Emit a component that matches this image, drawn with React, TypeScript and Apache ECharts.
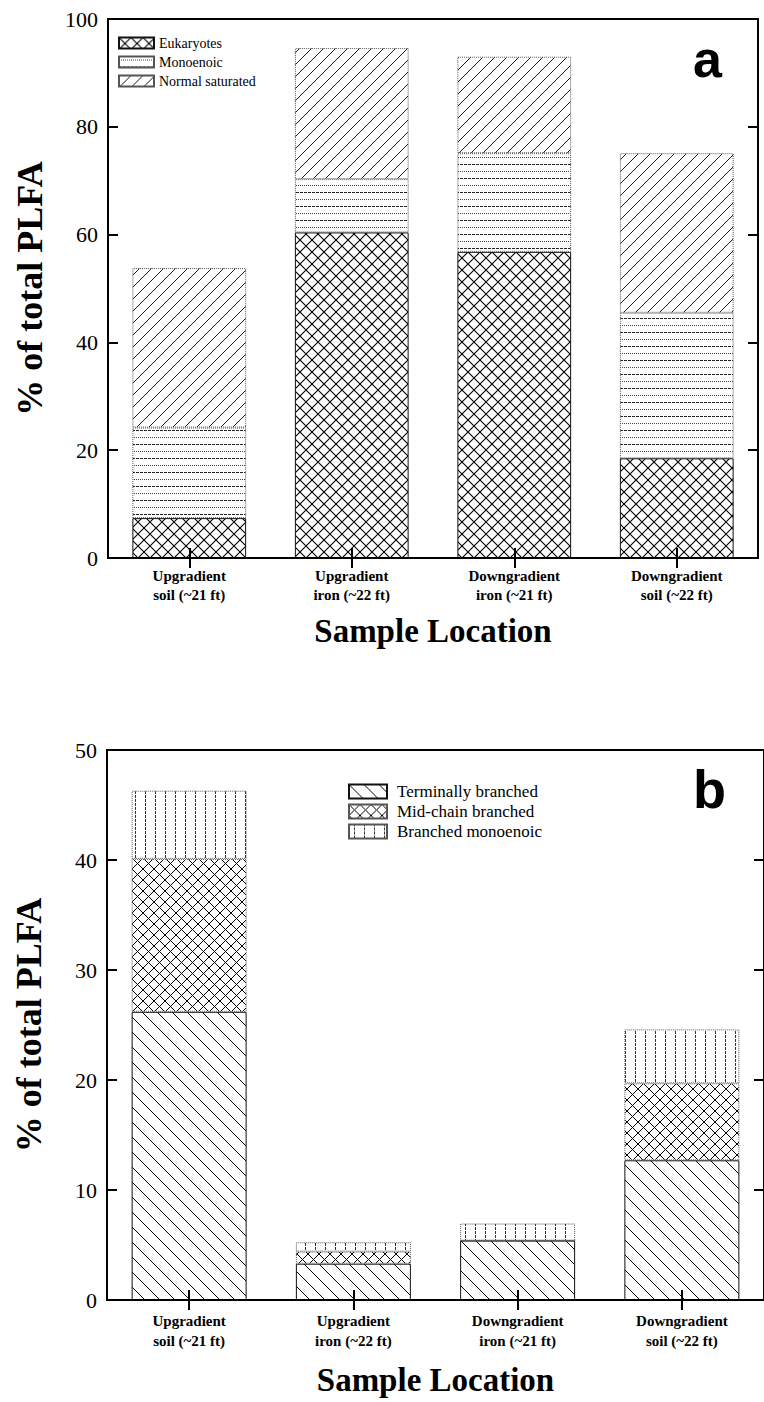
import React, { useEffect, useRef } from "react";
import * as echarts from "echarts";

// ---------- data ----------
const categories = [
  "Upgradient\nsoil (~21 ft)",
  "Upgradient\niron (~22 ft)",
  "Downgradient\niron (~21 ft)",
  "Downgradient\nsoil (~22 ft)",
];

// panel a
const eukaryotes = [7.4, 60.4, 56.8, 18.5];
const monoenoic = [16.8, 9.9, 18.3, 27.0];
const normalSaturated = [29.6, 24.3, 17.9, 29.6];

// panel b
const terminallyBranched = [26.2, 3.3, 5.4, 12.7];
const midChainBranched = [13.9, 1.1, 0, 7.0];
const branchedMonoenoic = [6.2, 0.85, 1.55, 4.9];

const yTicksA = [0, 20, 40, 60, 80, 100];
const yTicksB = [0, 10, 20, 30, 40, 50];

const legendA = ["Eukaryotes", "Monoenoic", "Normal saturated"];
const legendB = ["Terminally branched", "Mid-chain branched", "Branched monoenoic"];

// ---------- hatch patterns ----------
const svgTile = (w: number, h: number, body: string) =>
  "data:image/svg+xml;charset=utf-8," +
  encodeURIComponent(
    `<svg xmlns='http://www.w3.org/2000/svg' width='${w}' height='${h}'><rect width='${w}' height='${h}' fill='white'/>${body}</svg>`
  );
const pattern = (w: number, h: number, body: string) => ({
  image: svgTile(w, h, body),
  repeat: "repeat",
  imageWidth: w,
  imageHeight: h,
});
const fwd = (s: number, sw: number) =>
  `<path d='M0,${s} L${s},0 M-2,2 L2,-2 M${s - 2},${s + 2} L${s + 2},${s - 2}' stroke='black' stroke-width='${sw}' fill='none'/>`;
const bwd = (s: number, sw: number) =>
  `<path d='M0,0 L${s},${s} M-2,${s - 2} L2,${s + 2} M${s - 2},-2 L${s + 2},2' stroke='black' stroke-width='${sw}' fill='none'/>`;

const crossA = pattern(12, 12, fwd(12, 1.1) + bwd(12, 1.1));
const diagA = pattern(12, 12, fwd(12, 0.9));
const horizA = pattern(
  8,
  14,
  `<line x1='0' y1='3.5' x2='8' y2='3.5' stroke='#444' stroke-width='1' stroke-dasharray='1,1'/><line x1='0' y1='10.5' x2='8' y2='10.5' stroke='#222' stroke-width='1' stroke-dasharray='3,1'/>`
);
const backB = pattern(15, 15, bwd(15, 1));
const crossB = pattern(11, 11, fwd(11, 1) + bwd(11, 1));
const vertB = pattern(
  10,
  4,
  `<line x1='5.5' y1='0' x2='5.5' y2='4' stroke='#333' stroke-width='1' stroke-dasharray='2,1'/>`
);

const SERIF = "Liberation Serif";

export default function App() {
  const ref = useRef<HTMLDivElement>(null);

  useEffect(() => {
    if (!ref.current) return;
    const chart = echarts.init(ref.current, undefined, { renderer: "svg" });

    const solidBorder = { borderColor: "#111", borderWidth: 1 };
    const dotBorder = { borderColor: "#555", borderWidth: 1, borderType: "dotted" };

    const xAxisMain = (gridIndex: number, margin: number, lineHeight: number, nameGap: number) => ({
      type: "category",
      gridIndex,
      data: categories,
      position: "bottom",
      z: 5,
      axisLine: { show: true, lineStyle: { color: "#000", width: 2 } },
      axisTick: { show: true, inside: true, length: 10, alignWithLabel: true, lineStyle: { color: "#000", width: 2 } },
      axisLabel: {
        color: "#000",
        fontFamily: SERIF,
        fontWeight: "bold",
        fontSize: 15,
        lineHeight,
        margin,
        interval: 0,
      },
      name: "Sample Location",
      nameLocation: "middle",
      nameGap,
      nameTextStyle: { color: "#000", fontFamily: SERIF, fontWeight: "bold", fontSize: 33 },
      splitLine: { show: false },
    });
    const xAxisOut = (gridIndex: number) => ({
      type: "category",
      gridIndex,
      data: categories,
      position: "bottom",
      z: 5,
      axisLine: { show: false },
      axisTick: { show: true, inside: false, length: 10, alignWithLabel: true, lineStyle: { color: "#000", width: 2 } },
      axisLabel: { show: false },
      splitLine: { show: false },
    });
    const yAxisLeft = (gridIndex: number, ticks: number[]) => ({
      type: "value",
      gridIndex,
      position: "left",
      min: ticks[0],
      max: ticks[ticks.length - 1],
      interval: ticks[1] - ticks[0],
      z: 5,
      axisLine: { show: true, lineStyle: { color: "#000", width: 2 } },
      axisTick: { show: true, inside: true, length: 10, lineStyle: { color: "#000", width: 2 } },
      axisLabel: { color: "#000", fontFamily: SERIF, fontSize: 22, margin: 10 },
      splitLine: { show: false },
      name: "% of total PLFA",
      nameLocation: "middle",
      nameGap: 60,
      nameTextStyle: { color: "#000", fontFamily: SERIF, fontWeight: "bold", fontSize: 36 },
    });
    const yAxisRight = (gridIndex: number, ticks: number[]) => ({
      type: "value",
      gridIndex,
      position: "right",
      min: ticks[0],
      max: ticks[ticks.length - 1],
      interval: ticks[1] - ticks[0],
      z: 5,
      axisLine: { show: false },
      axisTick: { show: true, inside: true, length: 10, lineStyle: { color: "#000", width: 2 } },
      axisLabel: { show: false },
      splitLine: { show: false },
    });

    const bar = (name: string, data: number[], xi: number, yi: number, stack: string, color: any, border: any) => ({
      name,
      type: "bar",
      stack,
      xAxisIndex: xi,
      yAxisIndex: yi,
      barWidth: "70%",
      data,
      itemStyle: { color, ...border },
      emphasis: { disabled: true },
    });

    chart.setOption({
      animation: false,
      backgroundColor: "#fff",
      grid: [
        { left: 108, top: 19, width: 650, height: 539, show: true, borderColor: "#000", borderWidth: 2, backgroundColor: "transparent" },
        { left: 107, top: 750, width: 662, height: 550, show: true, borderColor: "#000", borderWidth: 2, backgroundColor: "transparent" },
      ],
      xAxis: [xAxisMain(0, 8, 19, 56), xAxisOut(0), xAxisMain(1, 11, 20, 63), xAxisOut(1)],
      yAxis: [yAxisLeft(0, yTicksA), yAxisRight(0, yTicksA), yAxisLeft(1, yTicksB), yAxisRight(1, yTicksB)],
      legend: [
        {
          data: legendA,
          orient: "vertical",
          left: 118,
          top: 36,
          padding: 0,
          itemWidth: 35,
          itemHeight: 11,
          itemGap: 5,
          icon: "rect",
          selectedMode: false,
          textStyle: { color: "#000", fontFamily: SERIF, fontSize: 14 },
        },
        {
          data: legendB,
          orient: "vertical",
          left: 348,
          top: 783,
          padding: 0,
          itemWidth: 38,
          itemHeight: 14,
          itemGap: 3,
          icon: "rect",
          selectedMode: false,
          textStyle: { color: "#000", fontFamily: SERIF, fontSize: 17, padding: [0, 0, 0, 5] },
        },
      ],
      graphic: [
        { type: "text", left: 693, top: 33, style: { text: "a", fontFamily: "Liberation Sans", fontWeight: "bold", fontSize: 52, fill: "#000" } },
        { type: "text", left: 693, top: 762, style: { text: "b", fontFamily: "Liberation Sans", fontWeight: "bold", fontSize: 54, fill: "#000" } },
      ],
      series: [
        bar("Eukaryotes", eukaryotes, 0, 0, "a", crossA, solidBorder),
        bar("Monoenoic", monoenoic, 0, 0, "a", horizA, dotBorder),
        bar("Normal saturated", normalSaturated, 0, 0, "a", diagA, dotBorder),
        bar("Terminally branched", terminallyBranched, 2, 2, "b", backB, solidBorder),
        bar("Mid-chain branched", midChainBranched, 2, 2, "b", crossB, dotBorder),
        bar("Branched monoenoic", branchedMonoenoic, 2, 2, "b", vertB, dotBorder),
      ],
    });

    return () => chart.dispose();
  }, []);

  return (
    <div
      ref={ref}
      style={{ position: "absolute", left: 0, top: 0, width: 764, height: 1402, background: "#fff" }}
    />
  );
}
